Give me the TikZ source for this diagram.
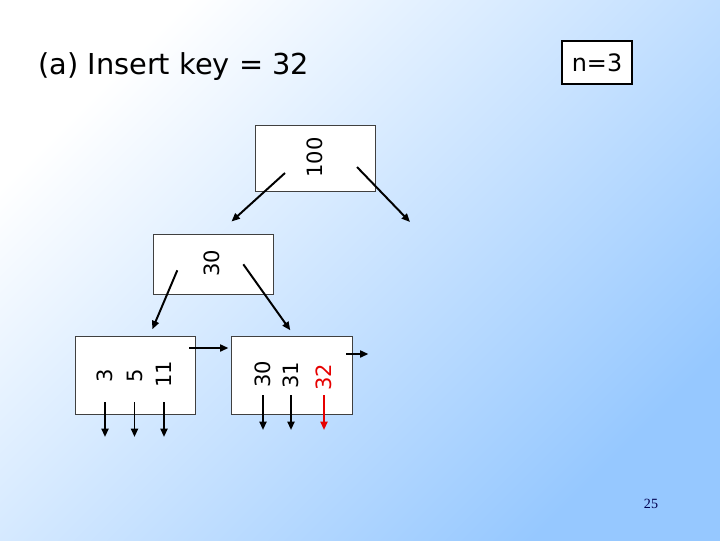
\documentclass[tikz,border=0pt]{standalone}
\usepackage{fontspec}
\setmainfont{DejaVu Sans}
\newfontfamily\pagefont{Liberation Serif}
\usetikzlibrary{arrows.meta}
\definecolor{bgblue}{RGB}{150, 200, 255}
\definecolor{newkey}{RGB}{230, 0, 0}
\definecolor{pagenum}{RGB}{0, 0, 80}

\tikzset{
    keybox/.style={draw=black!75, fill=white, line width=0.6pt, inner sep=0pt},
    keytext/.style={rotate=90, inner sep=0pt, font=\fontsize{15}{15}\selectfont},
    ptr/.style={line width=1.4pt, -{Triangle[length=6pt, width=5pt]}}
}

\begin{document}
\begin{tikzpicture}[x=0.025cm, y=-0.025cm]
    % background
    \shade[top color=white, bottom color=bgblue, shading angle=45]
        (0, 0) rectangle (720, 540);
    \useasboundingbox (0, 0) rectangle (720, 540);

    \node[anchor=west, inner sep=0pt, font=\fontsize{20.5}{20.5}\selectfont]
        (title) at (38, 67) {(a) Insert key = 32};
    \node[draw, line width=1.6pt, fill=white, minimum width=1.75cm,
          minimum height=1.075cm, font=\fontsize{17}{17}\selectfont]
        (order) at (597, 62.5) {n=3};

    % index nodes
    \node[keybox, minimum width=3cm, minimum height=1.65cm]
        (root) at (315.5, 158.5) {};
    \node[keytext] (k100) at (314.5, 157.5) {100};
    \node[keybox, minimum width=3cm, minimum height=1.5cm]
        (inner) at (213.3, 264.3) {};
    \node[keytext] (k30i) at (212, 263) {30};

    % leaves
    \node[keybox, minimum width=3cm, minimum height=1.95cm]
        (leafA) at (135, 375) {};
    \node[keybox, minimum width=3.025cm, minimum height=1.95cm]
        (leafB) at (291.5, 375) {};
    \node[keytext] (k3) at (105, 376) {3};
    \node[keytext] (k5) at (134.5, 376) {5};
    \node[keytext] (k11) at (164, 374) {11};
    \node[keytext] (k30) at (263, 374.5) {30};
    \node[keytext] (k31) at (291, 375) {31};
    \node[keytext, text=newkey] (k32) at (324, 377.5) {32};

    % pointers
    \draw[ptr] (root) ++(-30.5, 14.5) -- ++(-53.5, 48.5);
    \draw[ptr] (root) ++(41.5, 8.5) -- ++(53, 55);
    \draw[ptr] (inner) ++(-36, 6) -- ++(-25, 59);
    \draw[ptr] (inner) ++(30, 0) -- ++(47, 66);
    \draw[ptr] (leafA.east) ++(-6, -27) -- ++(39, 0);
    \draw[ptr] (leafB.east) ++(-6, -21) -- ++(22, 0);
    \foreach \k in {k3, k5, k11}
        \draw[ptr] (\k |- leafA) ++(0, 27) -- ++(0, 35);
    \foreach \k in {k30, k31}
        \draw[ptr] (\k |- leafB) ++(0, 20) -- ++(0, 35);
    \draw[ptr, newkey] (k32 |- leafB) ++(0, 20) -- ++(0, 35);

    \node[font=\pagefont\fontsize{10}{10}\selectfont, text=pagenum]
        (page) at (651, 504) {25};
\end{tikzpicture}
\end{document}
